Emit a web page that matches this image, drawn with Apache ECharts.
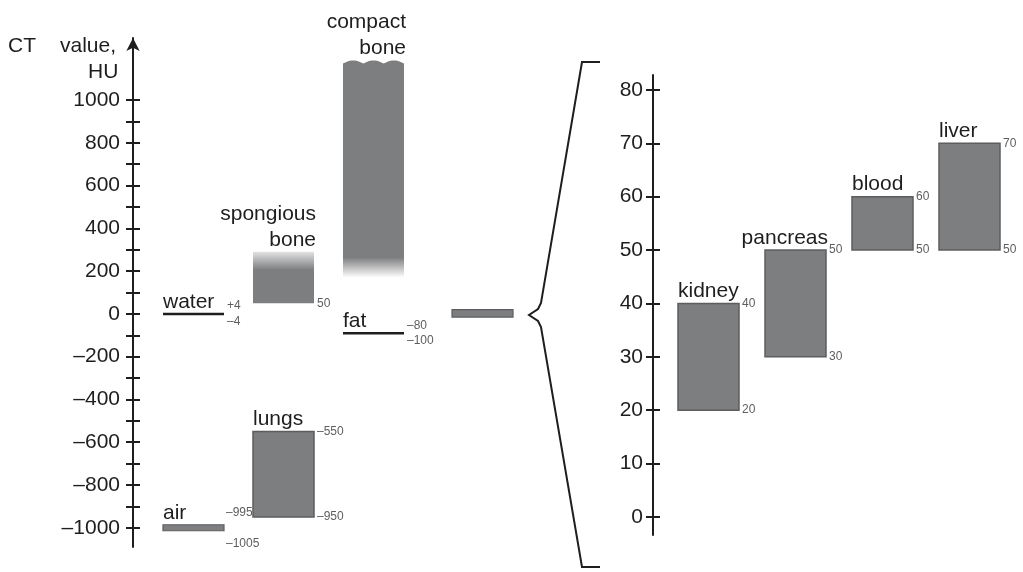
<!DOCTYPE html>
<html><head><meta charset="utf-8">
<script src="https://cdn.jsdelivr.net/npm/echarts@6/dist/echarts.min.js"></script>
<style>html,body{margin:0;padding:0;background:#fff}#c{width:1023px;height:572px}</style>
</head><body><div id="c"></div>
<script>
// ---- data ----
const leftNames = ['water', 'air', 'spongious\nbone', 'lungs', 'compact\nbone', 'fat', 'soft tissue'];
const leftColumns = [1, 1, 2, 2, 3, 3, 4.22];
const leftLow = [-4, -1005, 50, -950, 170, -100, -15];
const leftHigh = [4, -995, 290, -550, 1185, -80, 20];
const leftTickLabels = [-1000, -800, -600, -400, -200, 0, 200, 400, 600, 800, 1000];
const leftMinorTicks = [-900, -700, -500, -300, -100, 100, 300, 500, 700, 900];

const rightNames = ['kidney', 'pancreas', 'blood', 'liver'];
const rightColumns = [1, 2, 3, 4];
const rightLow = [20, 30, 50, 50];
const rightHigh = [40, 50, 60, 70];
const rightTickLabels = [0, 10, 20, 30, 40, 50, 60, 70, 80];

// ---- styles ----
const INK = '#1e1e1e';
const FILL = '#7d7e80';
const EDGE = '#5c5d5f';
const SMALL = '#5e5e5e';
const FAM = '"Liberation Sans", Arial, Helvetica, sans-serif';
const BIG = '21px ' + FAM;
const TINY = '12px ' + FAM;

const looks = {
  'water': { kind: 'line', nameAlign: 'left', labels: 'both', valueGap: 8 },
  'air': { kind: 'thin', nameAlign: 'left', labels: 'both', valueGap: 15.5, valueDx: -1 },
  'spongious\nbone': { kind: 'fadeTop', nameAlign: 'right', labels: 'low' },
  'lungs': { kind: 'box', nameAlign: 'left', labels: 'both' },
  'compact\nbone': { kind: 'fadeBottom', nameAlign: 'right', labels: 'none' },
  'fat': { kind: 'line', nameAlign: 'left', labels: 'both', valueGap: 7.5 },
  'soft tissue': { kind: 'thin', showName: false, labels: 'none' },
  'kidney': { kind: 'box', nameAlign: 'left', labels: 'both' },
  'pancreas': { kind: 'box', nameAlign: 'right', labels: 'both' },
  'blood': { kind: 'box', nameAlign: 'left', labels: 'both' },
  'liver': { kind: 'box', nameAlign: 'left', labels: 'both' }
};

function fmt(v, plus) {
  if (v < 0) return '\u2013' + (-v);
  if (plus && v > 0) return '+' + v;
  return String(v);
}
function txt(text, x, y, font, fill, align, valign, lh) {
  return { type: 'text', silent: true, style: {
    text: text, x: x, y: y, font: font, fill: fill,
    align: align, verticalAlign: valign, textAlign: align, textVerticalAlign: valign,
    lineHeight: lh || undefined } };
}

function makeRender(names, unitWidth) {
  return function (params, api) {
    const i = params.dataIndex;
    const name = names[i];
    const look = looks[name] || {};
    const col = api.value(0), lo = api.value(1), hi = api.value(2);
    const pTop = api.coord([col, hi]);
    const pBot = api.coord([col, lo]);
    const w = api.size([unitWidth, 0])[0];
    const x0 = Math.round(pTop[0] - w / 2), x1 = Math.round(pTop[0] + w / 2);
    let yT = pTop[1], yB = pBot[1];
    const mid = (yT + yB) / 2;
    const kids = [];
    const kind = look.kind || 'box';
    let nameRef = yT;
    if (kind === 'line') {
      kids.push({ type: 'line', shape: { x1: x0, y1: mid, x2: x1, y2: mid }, style: { stroke: INK, lineWidth: 2.5 } });
      nameRef = mid;
    } else if (kind === 'thin') {
      const h = Math.max(yB - yT, 6);
      yT = mid - h / 2; yB = mid + h / 2;
      kids.push({ type: 'rect', shape: { x: x0, y: yT, width: x1 - x0, height: h }, style: { fill: FILL, stroke: EDGE, lineWidth: 1.2 } });
      nameRef = yT;
    } else if (kind === 'box') {
      kids.push({ type: 'rect', shape: { x: x0, y: yT, width: x1 - x0, height: yB - yT }, style: { fill: FILL, stroke: EDGE, lineWidth: 1.5 } });
    } else if (kind === 'fadeTop') {
      const f = Math.min(0.9, 18 / (yB - yT));
      kids.push({ type: 'rect', shape: { x: x0, y: yT, width: x1 - x0, height: yB - yT }, style: {
        fill: new echarts.graphic.LinearGradient(0, 0, 0, 1, [
          { offset: 0, color: '#e2e2e3' }, { offset: f, color: FILL }, { offset: 1, color: FILL }]) } });
    } else if (kind === 'fadeBottom') {
      const f = Math.min(0.9, 20 / (yB - yT));
      const pts = [];
      const n = 36, amp = 3;
      for (let k = 0; k <= n; k++) {
        const t = k / n;
        pts.push([x0 + (x1 - x0) * t, yT + amp - amp * Math.abs(Math.sin(3 * Math.PI * t))]);
      }
      pts.push([x1, yB]); pts.push([x0, yB]);
      kids.push({ type: 'polygon', shape: { points: pts }, style: {
        fill: new echarts.graphic.LinearGradient(0, 0, 0, 1, [
          { offset: 0, color: FILL }, { offset: 1 - f, color: FILL }, { offset: 1, color: '#ffffff' }]) } });
    }
    if (look.showName !== false) {
      const al = look.nameAlign || 'left';
      kids.push(txt(name, al === 'left' ? x0 : x1 + 2, nameRef + 1, BIG, INK, al, 'bottom', 26));
    }
    const lx = x1 + 3 + (look.valueDx || 0);
    const plus = lo < 0 && hi > 0;
    let yHiLab = yT, yLoLab = yB;
    if (look.valueGap) { yHiLab = mid - look.valueGap; yLoLab = mid + look.valueGap; }
    if (look.labels === 'both') {
      kids.push(txt(fmt(hi, plus), lx, yHiLab, TINY, SMALL, 'left', 'middle'));
      kids.push(txt(fmt(lo, plus), lx, yLoLab, TINY, SMALL, 'left', 'middle'));
    } else if (look.labels === 'low') {
      kids.push(txt(fmt(lo, plus), lx, yLoLab, TINY, SMALL, 'left', 'middle'));
    }
    return { type: 'group', children: kids };
  };
}

function yAxes(grid, min, max, labels, ticks, margin, arrow) {
  const common = { gridIndex: grid, type: 'value', min: min, max: max, position: 'left', offset: 0, splitLine: { show: false } };
  return [
    Object.assign({}, common, {
      axisLine: { show: true, onZero: false, lineStyle: { color: INK, width: 2 },
        symbol: arrow ? ['none', 'arrow'] : ['none', 'none'], symbolSize: [10, 13] },
      axisTick: { show: true, inside: false, length: 7, customValues: ticks, lineStyle: { color: INK, width: 2 } },
      axisLabel: { show: true, customValues: labels, margin: margin, fontSize: 21, fontFamily: FAM, color: INK,
        formatter: function (v) { return fmt(v, false); } }
    }),
    Object.assign({}, common, {
      axisLine: { show: false, onZero: false },
      axisTick: { show: true, inside: true, length: 7, customValues: ticks, lineStyle: { color: INK, width: 2 } },
      axisLabel: { show: false }
    })
  ];
}

const chart = echarts.init(document.getElementById('c'), null, { renderer: 'canvas' });
const lAx = yAxes(0, -1090, 1290, leftTickLabels, leftTickLabels.concat(leftMinorTicks), 13, true);
const rAx = yAxes(1, -3.4, 82.8, rightTickLabels, rightTickLabels, 10, false);

chart.setOption({
  animation: false,
  backgroundColor: '#ffffff',
  grid: [
    { left: 133, top: 38, width: 400, height: 509 },
    { left: 653, top: 75, width: 367, height: 460 }
  ],
  xAxis: [
    { gridIndex: 0, type: 'value', min: 0.333, max: 0.333 + 400 / 90, show: false },
    { gridIndex: 1, type: 'value', min: 0.362, max: 0.362 + 367 / 87, show: false }
  ],
  yAxis: lAx.concat(rAx),
  series: [
    { type: 'custom', xAxisIndex: 0, yAxisIndex: 0, clip: false,
      renderItem: makeRender(leftNames, 61 / 90),
      data: leftColumns.map(function (c, i) { return [c, leftLow[i], leftHigh[i]]; }) },
    { type: 'custom', xAxisIndex: 1, yAxisIndex: 2, clip: false,
      renderItem: makeRender(rightNames, 61 / 87),
      data: rightColumns.map(function (c, i) { return [c, rightLow[i], rightHigh[i]]; }) }
  ],
  graphic: [
    { type: 'text', left: 8, top: 36, style: { text: 'CT', font: BIG, fill: INK } },
    { type: 'text', left: 60, top: 36, style: { text: 'value,', font: BIG, fill: INK } },
    { type: 'text', left: 88, top: 62, style: { text: 'HU', font: BIG, fill: INK } },
    { type: 'polyline', silent: true, shape: { points: [
      [600, 62], [582, 62], [541, 303], [538, 309], [529, 315], [538, 321], [541, 327], [582, 567], [600, 567]] },
      style: { stroke: INK, lineWidth: 2, fill: null } }
  ]
});
</script></body></html>
